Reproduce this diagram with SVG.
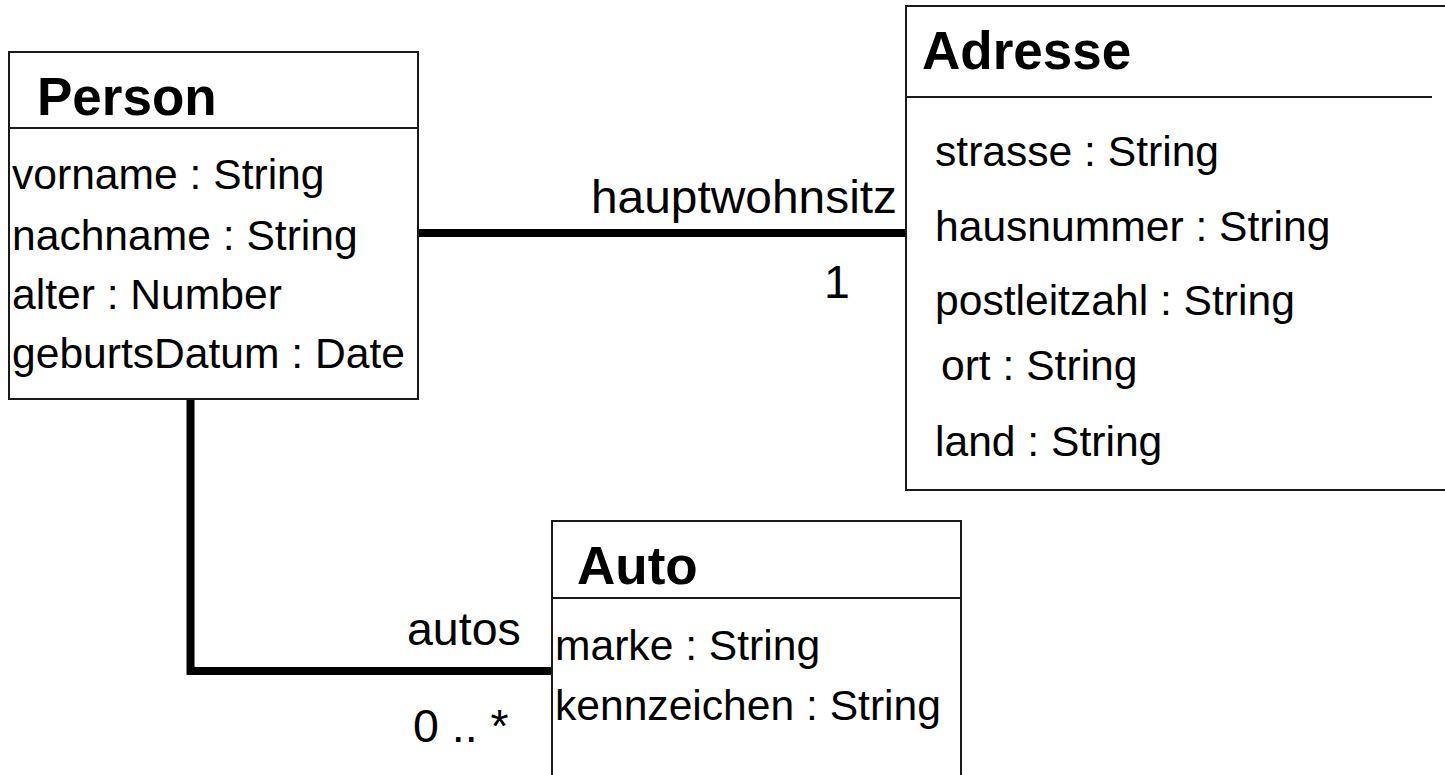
<svg xmlns="http://www.w3.org/2000/svg" width="1445" height="775" viewBox="0 0 1445 775">
  <style>
    .box { fill: #ffffff; stroke: #1a1a1a; stroke-width: 2; }
    .rule { stroke: #1a1a1a; stroke-width: 2; fill: none; }
    .title { font-family: "Liberation Sans", Arial, sans-serif; font-weight: bold; font-size: 53px; fill: #000; }
    .attr { font-family: "Liberation Sans", Arial, sans-serif; font-size: 42.6px; fill: #000; }
    .lbl { font-family: "Liberation Sans", Arial, sans-serif; font-size: 46.5px; fill: #000; }
    .assoc { stroke: #000; stroke-width: 8; fill: none; stroke-linejoin: miter; }
  </style>
  <rect x="0" y="0" width="1445" height="775" fill="#ffffff"/>

  <!-- associations -->
  <g id="connectors">
    <line class="assoc" x1="418" y1="233" x2="906" y2="233"/>
    <polyline class="assoc" points="190.5,400 190.5,671 552,671"/>
    <text class="lbl" x="591" y="213" textLength="306" lengthAdjust="spacingAndGlyphs">hauptwohnsitz</text>
    <text class="lbl" x="824" y="298">1</text>
    <text class="lbl" x="407" y="645">autos</text>
    <text class="lbl" x="413" y="742">0 .. *</text>
  </g>

  <!-- class Person -->
  <g id="person">
    <rect class="box" x="9" y="52" width="409" height="347"/>
    <line class="rule" x1="9" y1="128" x2="418" y2="128"/>
    <text class="title" x="37" y="115">Person</text>
    <text class="attr" x="12" y="189">vorname : String</text>
    <text class="attr" x="12" y="250">nachname : String</text>
    <text class="attr" x="12" y="309">alter : Number</text>
    <text class="attr" x="12" y="368">geburtsDatum : Date</text>
  </g>

  <!-- class Adresse (runs off the right edge) -->
  <g id="adresse">
    <rect x="906" y="6" width="560" height="484" fill="#ffffff"/>
    <polyline class="rule" points="1446,6 906,6 906,490 1446,490"/>
    <line class="rule" x1="906" y1="97" x2="1432" y2="97"/>
    <text class="title" x="922" y="69">Adresse</text>
    <text class="attr" x="935" y="166">strasse : String</text>
    <text class="attr" x="935" y="241">hausnummer : String</text>
    <text class="attr" x="935" y="315">postleitzahl : String</text>
    <text class="attr" x="941" y="380">ort : String</text>
    <text class="attr" x="935" y="456">land : String</text>
  </g>

  <!-- class Auto (runs off the bottom edge) -->
  <g id="auto">
    <rect x="552" y="521" width="409" height="260" fill="#ffffff"/>
    <polyline class="rule" points="552,777 552,521 961,521 961,777"/>
    <line class="rule" x1="552" y1="598" x2="961" y2="598"/>
    <text class="title" x="577" y="584">Auto</text>
    <text class="attr" x="555" y="660">marke : String</text>
    <text class="attr" x="555" y="720">kennzeichen : String</text>
  </g>
</svg>
